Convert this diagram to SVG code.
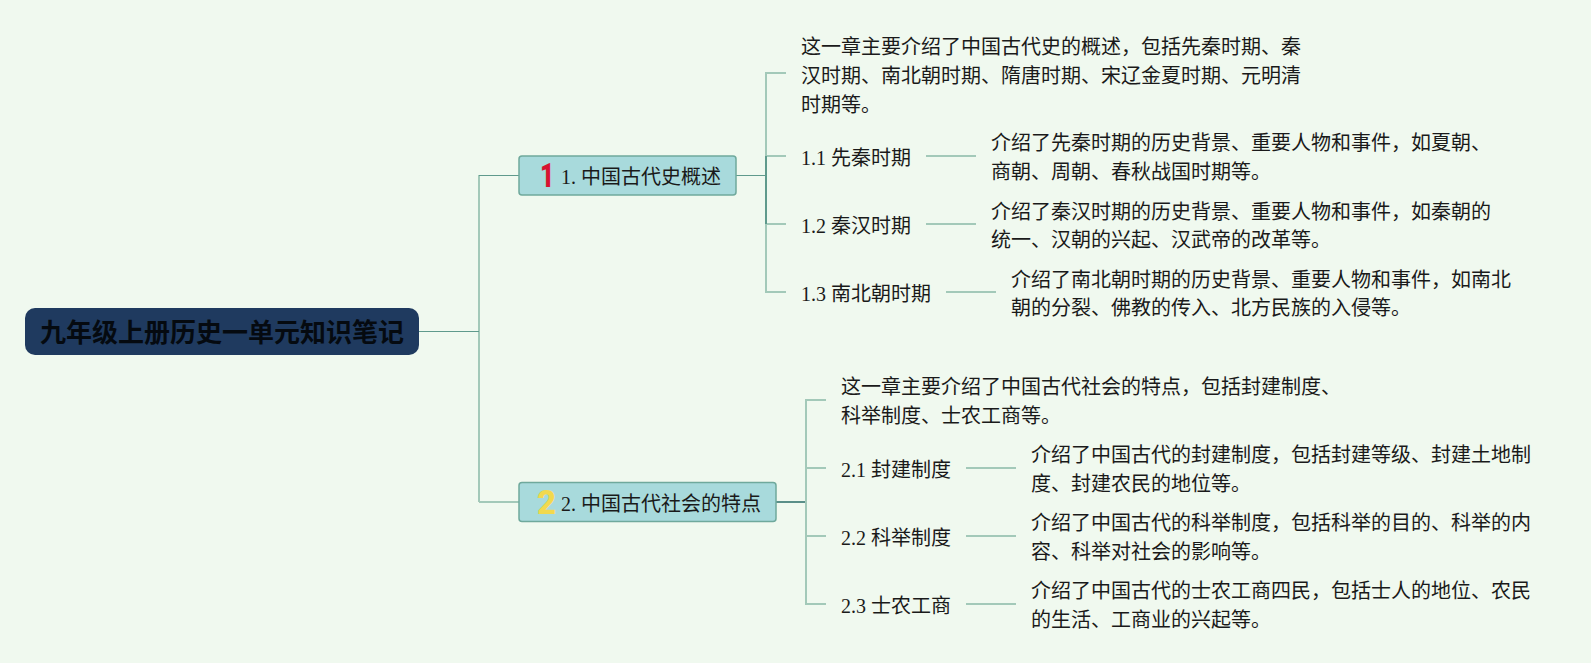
<svg xmlns="http://www.w3.org/2000/svg" width="1591" height="663" viewBox="0 0 1591 663">
<style>
text{font-family:"Liberation Serif","Noto Sans CJK SC",serif;font-size:20px;fill:#1a1a1a}
.root{font-size:26px;font-weight:700;fill:#050a10;font-family:"Liberation Sans","Noto Sans CJK SC",sans-serif}
.box{fill:#a8dadc;stroke:#6fa99c;stroke-width:1.5}
.c{fill:none;stroke:#a3c9b9;stroke-width:2}
.d{fill:none;stroke:#5f9a8c;stroke-width:1}
.ic{font-family:Roboto,sans-serif;font-weight:900;font-size:33px}
</style>
<rect width="1591" height="663" fill="#f0f9ef"/>
<g id="connectors">
<path class="c" d="M479 175V502"/>
<path class="d" d="M418 331.500H479M479 175.500H519"/>
<path class="c" d="M479 502H519"/>
<path class="d" d="M736 175.500H766"/>
<path class="c" d="M786 73H766V292H786M766 156H786M766 224H786"/>
<path class="d" style="stroke-width:2" d="M766 156V224"/>
<path class="d" style="stroke-width:2;stroke:#5a8f88" d="M776 502H806M806 468V536"/>
<path class="c" d="M826 400H806V604H826M806 468H826M806 536H826"/>
<path class="c" d="M926 156H976M926 224H976M946 292H996M966 468H1016M966 536H1016M966 604H1016"/>
</g>
<g id="root"><rect x="25" y="308" width="394" height="47" rx="10" fill="#1f3a5f"/><text class="root" x="40" y="342">九年级上册历史一单元知识笔记</text></g>
<g id="b1"><rect class="box" x="519" y="156" width="217" height="39" rx="3"/><text class="ic" x="0" y="0" transform="translate(540 187) scale(.75 1)" style="fill:#d8132f">1</text><text x="561" y="184">1. 中国古代史概述</text></g>
<g id="b2"><rect class="box" x="519" y="482.500" width="257" height="39" rx="3"/><text class="ic" x="537" y="514" style="fill:#f2d94e">2</text><text x="561" y="510.500">2. 中国古代社会的特点</text></g>
<g id="n1"><text x="801" y="53.500">这一章主要介绍了中国古代史的概述，包括先秦时期、秦</text><text x="801" y="82.500">汉时期、南北朝时期、隋唐时期、宋辽金夏时期、元明清</text><text x="801" y="111.500">时期等。</text></g>
<g id="n11"><text x="801" y="165">1.1 先秦时期</text></g>
<g id="n11d"><text x="991" y="150">介绍了先秦时期的历史背景、重要人物和事件，如夏朝、</text><text x="991" y="179">商朝、周朝、春秋战国时期等。</text></g>
<g id="n12"><text x="801" y="233">1.2 秦汉时期</text></g>
<g id="n12d"><text x="991" y="218.500">介绍了秦汉时期的历史背景、重要人物和事件，如秦朝的</text><text x="991" y="247">统一、汉朝的兴起、汉武帝的改革等。</text></g>
<g id="n13"><text x="801" y="301">1.3 南北朝时期</text></g>
<g id="n13d"><text x="1011" y="286.500">介绍了南北朝时期的历史背景、重要人物和事件，如南北</text><text x="1011" y="315">朝的分裂、佛教的传入、北方民族的入侵等。</text></g>
<g id="n2"><text x="841" y="394">这一章主要介绍了中国古代社会的特点，包括封建制度、</text><text x="841" y="423">科举制度、士农工商等。</text></g>
<g id="n21"><text x="841" y="477">2.1 封建制度</text></g>
<g id="n21d"><text x="1031" y="462">介绍了中国古代的封建制度，包括封建等级、封建土地制</text><text x="1031" y="491">度、封建农民的地位等。</text></g>
<g id="n22"><text x="841" y="545">2.2 科举制度</text></g>
<g id="n22d"><text x="1031" y="530">介绍了中国古代的科举制度，包括科举的目的、科举的内</text><text x="1031" y="559">容、科举对社会的影响等。</text></g>
<g id="n23"><text x="841" y="613">2.3 士农工商</text></g>
<g id="n23d"><text x="1031" y="598">介绍了中国古代的士农工商四民，包括士人的地位、农民</text><text x="1031" y="627">的生活、工商业的兴起等。</text></g>
</svg>
